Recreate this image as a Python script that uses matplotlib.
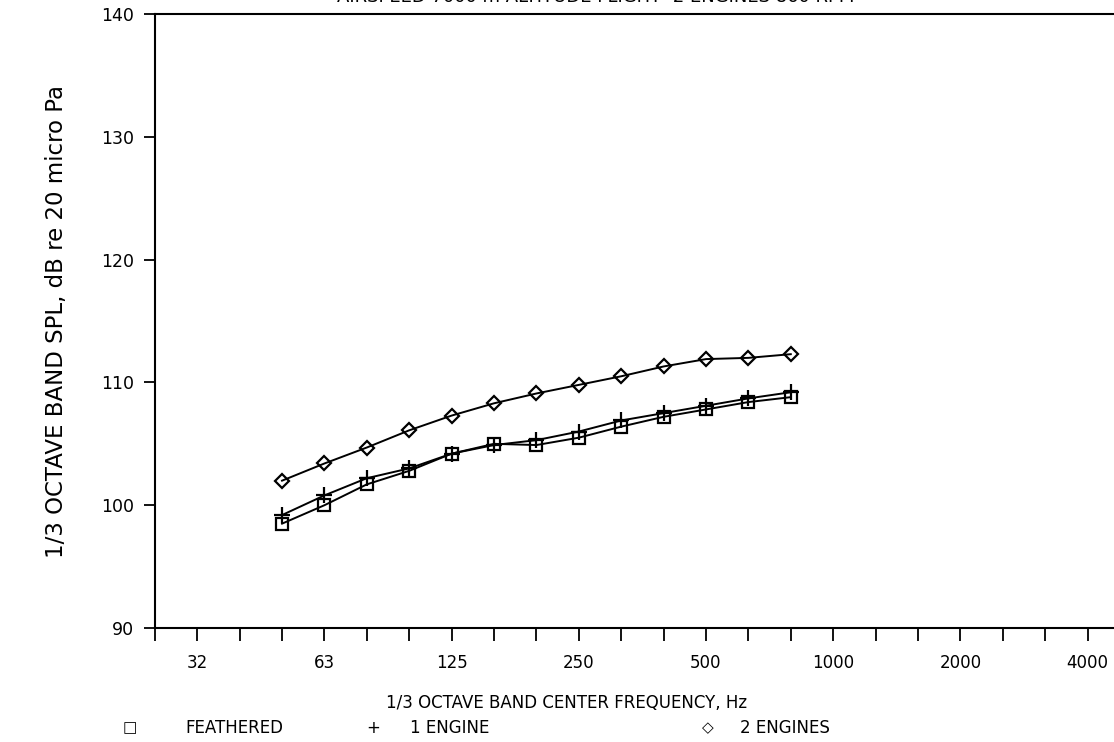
import matplotlib.pyplot as plt
import numpy as np

# 1/3 octave band centres on the axis (nominal)
bands = ['25', '32', '40', '50', '63', '80', '100', '125', '160', '200', '250', '315',
         '400', '500', '630', '800', '1000', '1250', '1600', '2000', '2500', '3150', '4000']
labelled = ['32', '63', '125', '250', '500', '1000', '2000', '4000']

# measured bands
freq = ['50', '63', '80', '100', '125', '160', '200', '250', '315', '400', '500', '630', '800']
feathered = [98.5, 100.0, 101.7, 102.8, 104.2, 105.0, 104.9, 105.5, 106.4, 107.2, 107.8, 108.4, 108.8]
one_engine = [99.2, 100.8, 102.2, 103.0, 104.2, 104.9, 105.3, 106.0, 106.9, 107.5, 108.1, 108.7, 109.2]
two_engines = [102.0, 103.4, 104.7, 106.1, 107.3, 108.3, 109.1, 109.8, 110.5, 111.3, 111.9, 112.0, 112.3]

plt.rcParams['font.family'] = ['DejaVu Sans']

fig = plt.figure(figsize=(11.14, 7.42), dpi=100)
ax = fig.add_axes([0.139, 0.1536, 0.87, 0.8275])

x = [bands.index(f) for f in freq]
ax.plot(x, feathered, color='black', lw=1.4, marker='s', ms=8.5, mfc='none', mec='black', mew=1.6)
ax.plot(x, one_engine, color='black', lw=1.4, marker='+', ms=11, mew=1.6)
ax.plot(x, two_engines, color='black', lw=1.4, marker='D', ms=7, mfc='none', mec='black', mew=1.6)

ax.set_xlim(0, 22.86)
ax.set_ylim(90, 140)
ax.set_xticks(np.arange(len(bands)))
ax.set_xticklabels([b if b in labelled else '' for b in bands], fontsize=12)
ax.set_yticks(np.arange(90, 141, 10))
ax.tick_params(axis='x', direction='out', length=9, width=1.3, pad=10)
ax.tick_params(axis='y', direction='out', length=8, width=1.3, pad=7, labelsize=12.5)
ax.spines['right'].set_visible(False)
for s in ['left', 'bottom', 'top']:
    ax.spines[s].set_linewidth(1.5)

ax.set_xlabel('1/3 OCTAVE BAND CENTER FREQUENCY, Hz', fontsize=12)
ax.xaxis.set_label_coords(0.425, -0.108)
ax.set_ylabel('1/3 OCTAVE BAND SPL, dB re 20 micro Pa', fontsize=16.5, labelpad=24)

# title, cut off by the top edge in the scan
fig.text(0.535, 1.004, 'AIRSPEED 7000 m ALTITUDE FLIGHT  2 ENGINES 860 RPM',
         fontsize=13, ha='center', va='center')

# legend row
ly = 1 - 728 / 742
fig.text(130 / 1114, ly, '\u25a1', fontsize=11, ha='center', va='center')
fig.text(185 / 1114, ly, 'FEATHERED', fontsize=12, va='center')
fig.text(373 / 1114, ly, '+', fontsize=12, ha='center', va='center')
fig.text(410 / 1114, ly, '1 ENGINE', fontsize=12, va='center')
fig.text(708 / 1114, ly, '\u25c7', fontsize=11, ha='center', va='center')
fig.text(740 / 1114, ly, '2 ENGINES', fontsize=12, va='center')

fig.savefig('out.png', dpi=100, facecolor='white')
